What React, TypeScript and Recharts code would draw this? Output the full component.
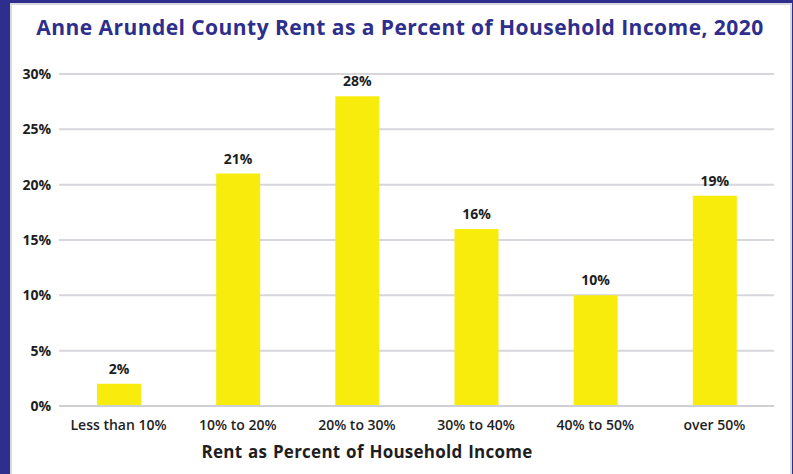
import { BarChart, Bar, XAxis, YAxis, CartesianGrid, LabelList } from "recharts"

const categories = ["Less than 10%", "10% to 20%", "20% to 30%", "30% to 40%", "40% to 50%", "over 50%"]
const shares = [2, 21, 28, 16, 10, 19]
const yTicks = [0, 5, 10, 15, 20, 25, 30]

const BLUE = "#2e2e8c"
const FONT = "'Open Sans', sans-serif"

export default function App() {
  const data = categories.map((name, i) => ({ name, value: shares[i] }))

  return (
    <div
      style={{
        position: "absolute",
        left: 0,
        top: 0,
        width: 793,
        height: 474,
        background: "#fff",
        overflow: "hidden",
        fontFamily: FONT,
      }}
    >
      {/* frame: blue band on the left, top and right, thin grey line inside */}
      <div style={{ position: "absolute", left: 0, top: 0, width: 10, height: 474, background: BLUE }} />
      <div style={{ position: "absolute", left: 0, top: 0, width: 793, height: 3, background: BLUE }} />
      <div style={{ position: "absolute", right: 0, top: 0, width: 3, height: 474, background: BLUE }} />
      <div
        style={{
          position: "absolute",
          left: 10,
          top: 3,
          width: 778,
          height: 480,
          borderLeft: "2px solid #d8d8de",
          borderTop: "2px solid #d8d8de",
          borderRight: "2px solid #d8d8de",
        }}
      />

      <div
        style={{
          position: "absolute",
          left: 10,
          width: 780,
          top: 13,
          textAlign: "center",
          color: BLUE,
          fontWeight: 700,
          fontSize: 21,
          letterSpacing: 0.45,
          lineHeight: "28px",
        }}
      >
        Anne Arundel County Rent as a Percent of Household Income, 2020
      </div>

      <div style={{ position: "absolute", left: 0, top: 0 }}>
        <BarChart width={793} height={474} data={data} margin={{ top: 74, right: 19, left: 0, bottom: 0 }}>
          <CartesianGrid vertical={false} stroke="#d6d6dc" strokeWidth={2} />
          <XAxis
            dataKey="name"
            height={68}
            axisLine={{ stroke: "#cfcfd6", strokeWidth: 2 }}
            tickLine={false}
            tickMargin={8}
            tick={{ fill: "#1e1e1e", fontSize: 14, fontWeight: 600, fontFamily: FONT }}
            interval={0}
          />
          <YAxis
            width={59}
            domain={[0, 30]}
            ticks={yTicks}
            tickFormatter={(v: number) => `${v}%`}
            axisLine={false}
            tickLine={false}
            tickMargin={2}
            tick={{ fill: "#1e1e1e", fontSize: 14, fontWeight: 700, fontFamily: FONT }}
          />
          <Bar dataKey="value" fill="#f7ec0c" barSize={44} isAnimationActive={false}>
            <LabelList
              dataKey="value"
              position="top"
              offset={10}
              formatter={(v: number) => `${v}%`}
              style={{ fill: "#1e1e1e", fontSize: 14, fontWeight: 700, fontFamily: FONT }}
            />
          </Bar>
        </BarChart>
      </div>

      <div
        style={{
          position: "absolute",
          left: 167,
          width: 400,
          top: 440,
          textAlign: "center",
          color: "#1e1e1e",
          fontWeight: 700,
          fontSize: 17,
          letterSpacing: 0.25,
          wordSpacing: 1,
          lineHeight: "24px",
        }}
      >
        Rent as Percent of Household Income
      </div>
    </div>
  )
}
